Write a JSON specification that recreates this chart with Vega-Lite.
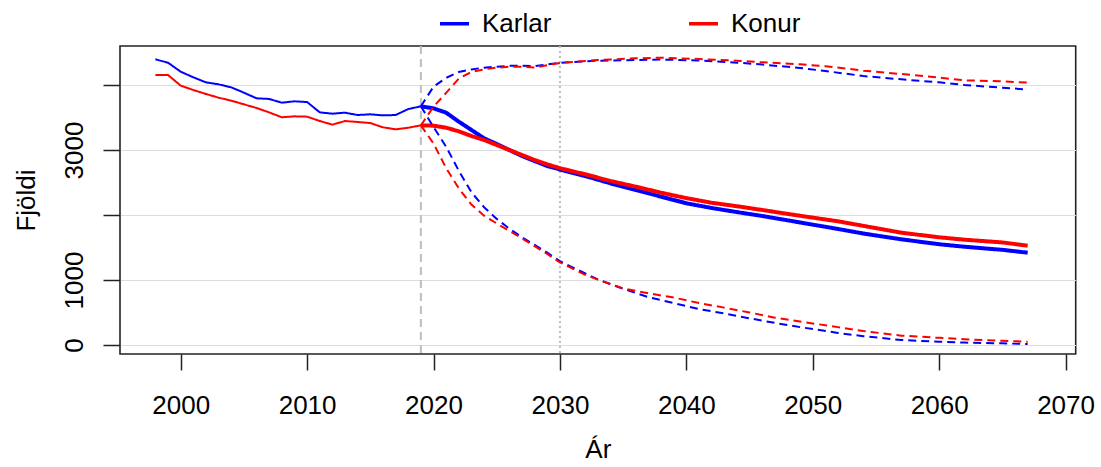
{
  "$schema": "https://vega.github.io/schema/vega-lite/v6.json",
  "width": 955.7,
  "height": 308,
  "autosize": "none",
  "padding": {"left": 120, "top": 46, "right": 25.3, "bottom": 113},
  "config": {
    "font": "Liberation Sans",
    "view": {"stroke": "#222222", "strokeWidth": 1.6},
    "axis": {"labelFont": "Liberation Sans", "titleFont": "Liberation Sans", "labelFontSize": 26, "titleFontSize": 26, "titleFontWeight": "normal", "labelColor": "black", "titleColor": "black", "tickColor": "#222222", "tickWidth": 1.5, "domain": false},
    "legend": {"labelFont": "Liberation Sans", "labelFontSize": 26, "labelColor": "black"}
  },
  "datasets": {
    "vlines": [{"year": 2019, "kind": "dash"}, {"year": 2030, "kind": "dot"}]
  },
  "data": {"values": [
    {"year":1998,"sex":"Karlar","type":"hist","value":4395},
    {"year":1999,"sex":"Karlar","type":"hist","value":4343},
    {"year":2000,"sex":"Karlar","type":"hist","value":4205},
    {"year":2001,"sex":"Karlar","type":"hist","value":4118},
    {"year":2002,"sex":"Karlar","type":"hist","value":4041},
    {"year":2003,"sex":"Karlar","type":"hist","value":4010},
    {"year":2004,"sex":"Karlar","type":"hist","value":3964},
    {"year":2005,"sex":"Karlar","type":"hist","value":3882},
    {"year":2006,"sex":"Karlar","type":"hist","value":3795},
    {"year":2007,"sex":"Karlar","type":"hist","value":3785},
    {"year":2008,"sex":"Karlar","type":"hist","value":3728},
    {"year":2009,"sex":"Karlar","type":"hist","value":3749},
    {"year":2010,"sex":"Karlar","type":"hist","value":3738},
    {"year":2011,"sex":"Karlar","type":"hist","value":3579},
    {"year":2012,"sex":"Karlar","type":"hist","value":3559},
    {"year":2013,"sex":"Karlar","type":"hist","value":3574},
    {"year":2014,"sex":"Karlar","type":"hist","value":3538},
    {"year":2015,"sex":"Karlar","type":"hist","value":3549},
    {"year":2016,"sex":"Karlar","type":"hist","value":3533},
    {"year":2017,"sex":"Karlar","type":"hist","value":3538},
    {"year":2018,"sex":"Karlar","type":"hist","value":3630},
    {"year":2019,"sex":"Karlar","type":"hist","value":3672},
    {"year":1998,"sex":"Konur","type":"hist","value":4154},
    {"year":1999,"sex":"Konur","type":"hist","value":4154},
    {"year":2000,"sex":"Konur","type":"hist","value":3990},
    {"year":2001,"sex":"Konur","type":"hist","value":3923},
    {"year":2002,"sex":"Konur","type":"hist","value":3862},
    {"year":2003,"sex":"Konur","type":"hist","value":3805},
    {"year":2004,"sex":"Konur","type":"hist","value":3759},
    {"year":2005,"sex":"Konur","type":"hist","value":3703},
    {"year":2006,"sex":"Konur","type":"hist","value":3646},
    {"year":2007,"sex":"Konur","type":"hist","value":3579},
    {"year":2008,"sex":"Konur","type":"hist","value":3503},
    {"year":2009,"sex":"Konur","type":"hist","value":3518},
    {"year":2010,"sex":"Konur","type":"hist","value":3513},
    {"year":2011,"sex":"Konur","type":"hist","value":3446},
    {"year":2012,"sex":"Konur","type":"hist","value":3390},
    {"year":2013,"sex":"Konur","type":"hist","value":3446},
    {"year":2014,"sex":"Konur","type":"hist","value":3431},
    {"year":2015,"sex":"Konur","type":"hist","value":3415},
    {"year":2016,"sex":"Konur","type":"hist","value":3349},
    {"year":2017,"sex":"Konur","type":"hist","value":3318},
    {"year":2018,"sex":"Konur","type":"hist","value":3343},
    {"year":2019,"sex":"Konur","type":"hist","value":3379},

    {"year":2019,"sex":"Karlar","type":"median","value":3672},
    {"year":2020,"sex":"Karlar","type":"median","value":3641},
    {"year":2021,"sex":"Karlar","type":"median","value":3574},
    {"year":2022,"sex":"Karlar","type":"median","value":3436},
    {"year":2023,"sex":"Karlar","type":"median","value":3308},
    {"year":2024,"sex":"Karlar","type":"median","value":3180},
    {"year":2025,"sex":"Karlar","type":"median","value":3092},
    {"year":2026,"sex":"Karlar","type":"median","value":3000},
    {"year":2027,"sex":"Karlar","type":"median","value":2908},
    {"year":2028,"sex":"Karlar","type":"median","value":2830},
    {"year":2029,"sex":"Karlar","type":"median","value":2754},
    {"year":2030,"sex":"Karlar","type":"median","value":2700},
    {"year":2032,"sex":"Karlar","type":"median","value":2600},
    {"year":2034,"sex":"Karlar","type":"median","value":2487},
    {"year":2036,"sex":"Karlar","type":"median","value":2385},
    {"year":2038,"sex":"Karlar","type":"median","value":2282},
    {"year":2040,"sex":"Karlar","type":"median","value":2180},
    {"year":2042,"sex":"Karlar","type":"median","value":2108},
    {"year":2044,"sex":"Karlar","type":"median","value":2045},
    {"year":2046,"sex":"Karlar","type":"median","value":1985},
    {"year":2049,"sex":"Karlar","type":"median","value":1885},
    {"year":2052,"sex":"Karlar","type":"median","value":1785},
    {"year":2054,"sex":"Karlar","type":"median","value":1715},
    {"year":2057,"sex":"Karlar","type":"median","value":1626},
    {"year":2060,"sex":"Karlar","type":"median","value":1550},
    {"year":2062,"sex":"Karlar","type":"median","value":1512},
    {"year":2065,"sex":"Karlar","type":"median","value":1464},
    {"year":2067,"sex":"Karlar","type":"median","value":1420},
    {"year":2019,"sex":"Konur","type":"median","value":3379},
    {"year":2020,"sex":"Konur","type":"median","value":3374},
    {"year":2021,"sex":"Konur","type":"median","value":3343},
    {"year":2022,"sex":"Konur","type":"median","value":3287},
    {"year":2023,"sex":"Konur","type":"median","value":3215},
    {"year":2024,"sex":"Konur","type":"median","value":3154},
    {"year":2025,"sex":"Konur","type":"median","value":3077},
    {"year":2026,"sex":"Konur","type":"median","value":3000},
    {"year":2027,"sex":"Konur","type":"median","value":2923},
    {"year":2028,"sex":"Konur","type":"median","value":2846},
    {"year":2029,"sex":"Konur","type":"median","value":2779},
    {"year":2030,"sex":"Konur","type":"median","value":2720},
    {"year":2032,"sex":"Konur","type":"median","value":2626},
    {"year":2034,"sex":"Konur","type":"median","value":2523},
    {"year":2036,"sex":"Konur","type":"median","value":2436},
    {"year":2038,"sex":"Konur","type":"median","value":2343},
    {"year":2040,"sex":"Konur","type":"median","value":2260},
    {"year":2042,"sex":"Konur","type":"median","value":2188},
    {"year":2044,"sex":"Konur","type":"median","value":2135},
    {"year":2046,"sex":"Konur","type":"median","value":2077},
    {"year":2049,"sex":"Konur","type":"median","value":1988},
    {"year":2052,"sex":"Konur","type":"median","value":1903},
    {"year":2054,"sex":"Konur","type":"median","value":1833},
    {"year":2057,"sex":"Konur","type":"median","value":1728},
    {"year":2060,"sex":"Konur","type":"median","value":1657},
    {"year":2062,"sex":"Konur","type":"median","value":1620},
    {"year":2065,"sex":"Konur","type":"median","value":1578},
    {"year":2067,"sex":"Konur","type":"median","value":1528},

    {"year":2019,"sex":"Karlar","type":"upper","value":3672},
    {"year":2020,"sex":"Karlar","type":"upper","value":3974},
    {"year":2021,"sex":"Karlar","type":"upper","value":4110},
    {"year":2022,"sex":"Karlar","type":"upper","value":4200},
    {"year":2023,"sex":"Karlar","type":"upper","value":4240},
    {"year":2024,"sex":"Karlar","type":"upper","value":4267},
    {"year":2025,"sex":"Karlar","type":"upper","value":4282},
    {"year":2026,"sex":"Karlar","type":"upper","value":4295},
    {"year":2027,"sex":"Karlar","type":"upper","value":4297},
    {"year":2028,"sex":"Karlar","type":"upper","value":4290},
    {"year":2029,"sex":"Karlar","type":"upper","value":4318},
    {"year":2030,"sex":"Karlar","type":"upper","value":4340},
    {"year":2033,"sex":"Karlar","type":"upper","value":4374},
    {"year":2036,"sex":"Karlar","type":"upper","value":4385},
    {"year":2038,"sex":"Karlar","type":"upper","value":4392},
    {"year":2041,"sex":"Karlar","type":"upper","value":4376},
    {"year":2044,"sex":"Karlar","type":"upper","value":4344},
    {"year":2046,"sex":"Karlar","type":"upper","value":4315},
    {"year":2049,"sex":"Karlar","type":"upper","value":4262},
    {"year":2051,"sex":"Karlar","type":"upper","value":4215},
    {"year":2054,"sex":"Karlar","type":"upper","value":4138},
    {"year":2057,"sex":"Karlar","type":"upper","value":4087},
    {"year":2060,"sex":"Karlar","type":"upper","value":4041},
    {"year":2062,"sex":"Karlar","type":"upper","value":4000},
    {"year":2065,"sex":"Karlar","type":"upper","value":3959},
    {"year":2067,"sex":"Karlar","type":"upper","value":3930},
    {"year":2019,"sex":"Konur","type":"upper","value":3379},
    {"year":2020,"sex":"Konur","type":"upper","value":3667},
    {"year":2021,"sex":"Konur","type":"upper","value":3880},
    {"year":2022,"sex":"Konur","type":"upper","value":4100},
    {"year":2023,"sex":"Konur","type":"upper","value":4200},
    {"year":2024,"sex":"Konur","type":"upper","value":4241},
    {"year":2025,"sex":"Konur","type":"upper","value":4267},
    {"year":2026,"sex":"Konur","type":"upper","value":4280},
    {"year":2027,"sex":"Konur","type":"upper","value":4282},
    {"year":2028,"sex":"Konur","type":"upper","value":4267},
    {"year":2029,"sex":"Konur","type":"upper","value":4305},
    {"year":2030,"sex":"Konur","type":"upper","value":4340},
    {"year":2033,"sex":"Konur","type":"upper","value":4385},
    {"year":2036,"sex":"Konur","type":"upper","value":4410},
    {"year":2038,"sex":"Konur","type":"upper","value":4420},
    {"year":2041,"sex":"Konur","type":"upper","value":4400},
    {"year":2044,"sex":"Konur","type":"upper","value":4374},
    {"year":2046,"sex":"Konur","type":"upper","value":4349},
    {"year":2049,"sex":"Konur","type":"upper","value":4318},
    {"year":2051,"sex":"Konur","type":"upper","value":4290},
    {"year":2054,"sex":"Konur","type":"upper","value":4221},
    {"year":2057,"sex":"Konur","type":"upper","value":4169},
    {"year":2060,"sex":"Konur","type":"upper","value":4113},
    {"year":2062,"sex":"Konur","type":"upper","value":4072},
    {"year":2065,"sex":"Konur","type":"upper","value":4056},
    {"year":2067,"sex":"Konur","type":"upper","value":4036},

    {"year":2019,"sex":"Karlar","type":"lower","value":3672},
    {"year":2020,"sex":"Karlar","type":"lower","value":3355},
    {"year":2021,"sex":"Karlar","type":"lower","value":3050},
    {"year":2022,"sex":"Karlar","type":"lower","value":2680},
    {"year":2023,"sex":"Karlar","type":"lower","value":2350},
    {"year":2024,"sex":"Karlar","type":"lower","value":2120},
    {"year":2025,"sex":"Karlar","type":"lower","value":1940},
    {"year":2026,"sex":"Karlar","type":"lower","value":1790},
    {"year":2027,"sex":"Karlar","type":"lower","value":1655},
    {"year":2028,"sex":"Karlar","type":"lower","value":1540},
    {"year":2029,"sex":"Karlar","type":"lower","value":1420},
    {"year":2030,"sex":"Karlar","type":"lower","value":1290},
    {"year":2031,"sex":"Karlar","type":"lower","value":1195},
    {"year":2032,"sex":"Karlar","type":"lower","value":1100},
    {"year":2033,"sex":"Karlar","type":"lower","value":1010},
    {"year":2035,"sex":"Karlar","type":"lower","value":865},
    {"year":2037,"sex":"Karlar","type":"lower","value":735},
    {"year":2039,"sex":"Karlar","type":"lower","value":645},
    {"year":2041,"sex":"Karlar","type":"lower","value":553},
    {"year":2043,"sex":"Karlar","type":"lower","value":485},
    {"year":2045,"sex":"Karlar","type":"lower","value":410},
    {"year":2047,"sex":"Karlar","type":"lower","value":340},
    {"year":2049,"sex":"Karlar","type":"lower","value":275},
    {"year":2052,"sex":"Karlar","type":"lower","value":185},
    {"year":2054,"sex":"Karlar","type":"lower","value":135},
    {"year":2057,"sex":"Karlar","type":"lower","value":77},
    {"year":2060,"sex":"Karlar","type":"lower","value":50},
    {"year":2062,"sex":"Karlar","type":"lower","value":37},
    {"year":2065,"sex":"Karlar","type":"lower","value":25},
    {"year":2067,"sex":"Karlar","type":"lower","value":15},
    {"year":2019,"sex":"Konur","type":"lower","value":3379},
    {"year":2020,"sex":"Konur","type":"lower","value":3100},
    {"year":2021,"sex":"Konur","type":"lower","value":2720},
    {"year":2022,"sex":"Konur","type":"lower","value":2410},
    {"year":2023,"sex":"Konur","type":"lower","value":2160},
    {"year":2024,"sex":"Konur","type":"lower","value":1990},
    {"year":2025,"sex":"Konur","type":"lower","value":1870},
    {"year":2026,"sex":"Konur","type":"lower","value":1755},
    {"year":2027,"sex":"Konur","type":"lower","value":1640},
    {"year":2028,"sex":"Konur","type":"lower","value":1520},
    {"year":2029,"sex":"Konur","type":"lower","value":1400},
    {"year":2030,"sex":"Konur","type":"lower","value":1270},
    {"year":2031,"sex":"Konur","type":"lower","value":1175},
    {"year":2032,"sex":"Konur","type":"lower","value":1080},
    {"year":2033,"sex":"Konur","type":"lower","value":1005},
    {"year":2035,"sex":"Konur","type":"lower","value":870},
    {"year":2037,"sex":"Konur","type":"lower","value":795},
    {"year":2039,"sex":"Konur","type":"lower","value":730},
    {"year":2041,"sex":"Konur","type":"lower","value":645},
    {"year":2043,"sex":"Konur","type":"lower","value":575},
    {"year":2045,"sex":"Konur","type":"lower","value":500},
    {"year":2047,"sex":"Konur","type":"lower","value":420},
    {"year":2049,"sex":"Konur","type":"lower","value":360},
    {"year":2052,"sex":"Konur","type":"lower","value":275},
    {"year":2054,"sex":"Konur","type":"lower","value":215},
    {"year":2057,"sex":"Konur","type":"lower","value":144},
    {"year":2060,"sex":"Konur","type":"lower","value":110},
    {"year":2062,"sex":"Konur","type":"lower","value":88},
    {"year":2065,"sex":"Konur","type":"lower","value":65},
    {"year":2067,"sex":"Konur","type":"lower","value":51}
  ]},
  "layer": [
    {
      "data": {"name": "vlines"},
      "transform": [{"filter": "datum.kind == 'dash'"}],
      "mark": {"type": "rule", "color": "#BEBEBE", "strokeWidth": 2, "strokeDash": [8, 5]},
      "encoding": {"x": {"field": "year", "type": "quantitative"}}
    },
    {
      "data": {"name": "vlines"},
      "transform": [{"filter": "datum.kind == 'dot'"}],
      "mark": {"type": "rule", "color": "#BEBEBE", "strokeWidth": 2, "strokeDash": [2, 3]},
      "encoding": {"x": {"field": "year", "type": "quantitative"}}
    },
    {
      "mark": {"type": "line", "clip": true},
      "encoding": {
        "x": {
          "field": "year", "type": "quantitative",
          "scale": {"domain": [1995.2, 2070.8], "nice": false, "zero": false},
          "axis": {"title": "Ár", "values": [2000, 2010, 2020, 2030, 2040, 2050, 2060, 2070], "format": "d", "grid": false, "tickSize": 16, "labelFontSize": 26, "titleFontSize": 26, "labelPadding": 22, "titlePadding": 18}
        },
        "y": {
          "field": "value", "type": "quantitative",
          "scale": {"domain": [-138.5, 4600], "nice": false, "zero": false},
          "axis": {"title": "Fjöldi", "values": [0, 1000, 2000, 3000, 4000], "format": "d", "labelExpr": "datum.value == 2000 || datum.value == 4000 ? '' : datum.label", "grid": true, "gridColor": "#DDDDDD", "gridWidth": 1, "tickSize": 17, "labelFontSize": 26, "titleFontSize": 26, "labelAngle": -90, "labelAlign": "center", "labelBaseline": "alphabetic", "labelPadding": 21, "titlePadding": 22}
        },
        "color": {
          "field": "sex", "type": "nominal",
          "scale": {"domain": ["Karlar", "Konur"], "range": ["#0000FF", "#FF0000"]},
          "legend": {"title": null, "orient": "none", "direction": "horizontal", "legendX": 318, "legendY": -39, "symbolType": "stroke", "symbolSize": 841, "symbolStrokeWidth": 3.5, "labelOffset": 11, "columnPadding": 130}
        },
        "strokeDash": {
          "field": "type", "type": "nominal",
          "scale": {"domain": ["hist", "median", "upper", "lower"], "range": [[1, 0], [1, 0], [8, 5], [8, 5]]},
          "legend": null
        },
        "strokeWidth": {
          "field": "type", "type": "nominal",
          "scale": {"type": "ordinal", "domain": ["hist", "median", "upper", "lower"], "range": [2, 4, 2, 2]},
          "legend": null
        },
        "order": {"field": "year", "type": "quantitative"}
      }
    }
  ]
}
